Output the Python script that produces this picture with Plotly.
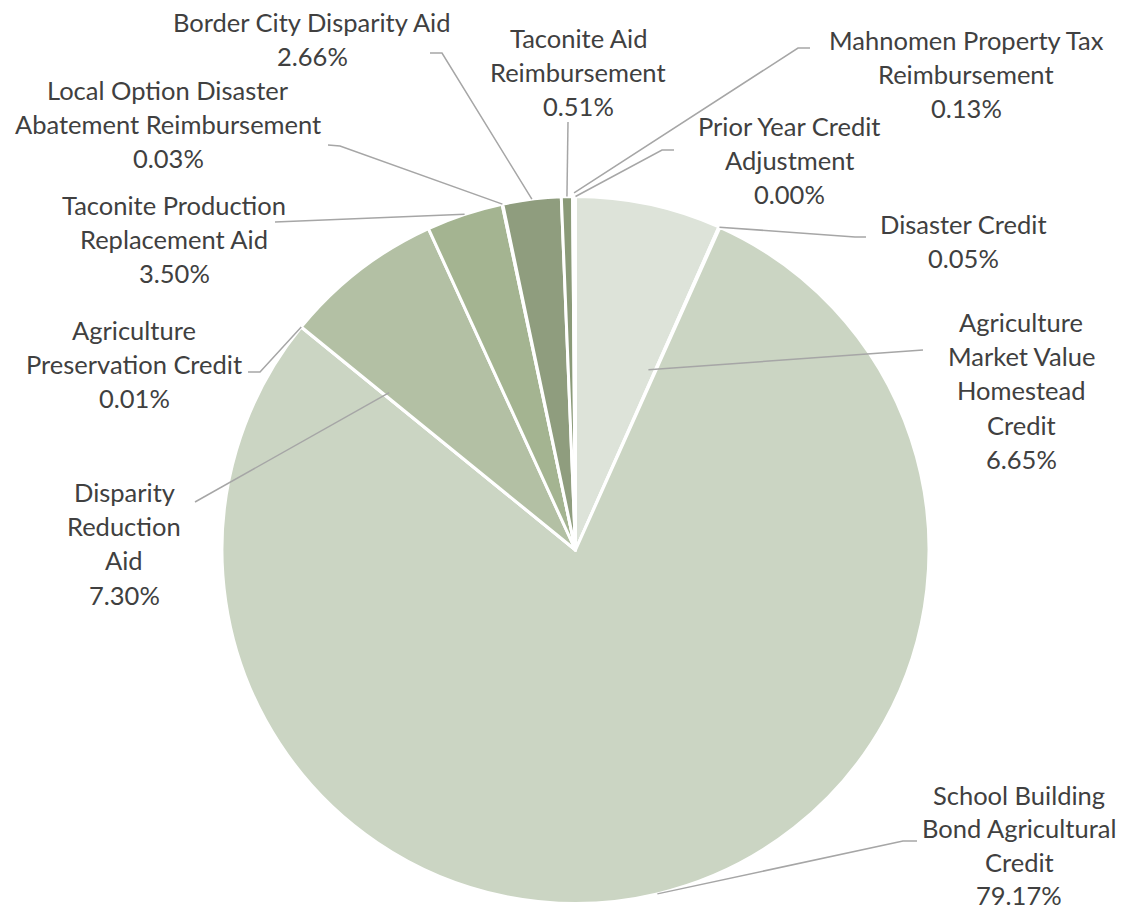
import math
import plotly.graph_objects as go

# ---------------- data ----------------
categories = [
    "Agriculture Market Value Homestead Credit",
    "Disaster Credit",
    "School Building Bond Agricultural Credit",
    "Agriculture Preservation Credit",
    "Disparity Reduction Aid",
    "Taconite Production Replacement Aid",
    "Local Option Disaster Abatement Reimbursement",
    "Border City Disparity Aid",
    "Taconite Aid Reimbursement",
    "Mahnomen Property Tax Reimbursement",
    "Prior Year Credit Adjustment",
]
shares = [6.65, 0.05, 79.17, 0.01, 7.30, 3.50, 0.03, 2.66, 0.51, 0.13, 0.00]
label_lines = [
    ["Agriculture", "Market Value", "Homestead", "Credit"],
    ["Disaster Credit"],
    ["School Building", "Bond Agricultural", "Credit"],
    ["Agriculture", "Preservation Credit"],
    ["Disparity", "Reduction", "Aid"],
    ["Taconite Production", "Replacement Aid"],
    ["Local Option Disaster", "Abatement Reimbursement"],
    ["Border City Disparity Aid"],
    ["Taconite Aid", "Reimbursement"],
    ["Mahnomen Property Tax", "Reimbursement"],
    ["Prior Year Credit", "Adjustment"],
]
colors = ["#dde3d9", "#a4b491", "#cbd5c3", "#b3c0a4", "#b3c0a4", "#a4b491",
          "#97a685", "#8f9d7e", "#8a9a78", "#8a9a78", "#8a9a78"]

# ---------------- layout / style ----------------
W, H = 1127, 911
CX, CY, R = 575.5, 550, 353.5
FONT = "Lato"
FSIZE = 25.5
TEXT_COLOR = "#404040"
LINE_COLOR = "#a6a6a6"
LINE_STEP = 34.2

# label placement: centre x, first line centre y (pixels), line step
label_pos = [
    (1021, 322, LINE_STEP), (963, 224, LINE_STEP), (1019, 795, 33.4),
    (134, 330, LINE_STEP), (124, 492, LINE_STEP), (174, 205, LINE_STEP),
    (168, 90, LINE_STEP), (312, 22, LINE_STEP), (578, 38, LINE_STEP),
    (966, 40, LINE_STEP), (789, 126, LINE_STEP),
]
# leader anchor: fraction along slice, fraction of radius
anchor_frac = [
    (0.92, 0.55), (0.5, 1.0), (0.5, 1.0), (0.5, 1.0), (0.04, 0.69), (0.5, 1.0),
    (0.5, 1.0), (0.5, 1.0), (0.5, 1.0), (0.5, 1.01), (0.5, 1.0),
]
# leader path after the anchor (pixels)
leader_pts = [
    [(923, 350)],
    [(855, 237), (866, 237)],
    [(903, 841), (917, 841)],
    [(260, 372), (248, 372)],
    [(195, 502)],
    [(275, 222)],
    [(340, 146), (328, 145)],
    [(442, 53), (430, 53)],
    [(568, 122)],
    [(798, 48), (810, 48)],
    [(662, 150), (674, 150)],
]


def px(x, y):
    return x / W, 1 - y / H


fig = go.Figure(
    go.Pie(
        labels=categories,
        values=shares,
        sort=False,
        direction="clockwise",
        rotation=0,
        textinfo="none",
        hoverinfo="label+percent",
        marker=dict(colors=colors, line=dict(color="white", width=3)),
        domain=dict(x=[(CX - R) / W, (CX + R) / W],
                    y=[1 - (CY + R) / H, 1 - (CY - R) / H]),
        showlegend=False,
    )
)

total = sum(shares)
cum = 0.0
shapes = []
annotations = []
for i, v in enumerate(shares):
    af, rf = anchor_frac[i]
    theta = 2 * math.pi * (cum + af * v) / total
    ax = CX + rf * R * math.sin(theta)
    ay = CY - rf * R * math.cos(theta)
    cum += v
    pts = [(ax, ay)] + leader_pts[i]
    path = "M " + " L ".join("%.5f,%.5f" % px(x, y) for x, y in pts)
    shapes.append(dict(type="path", xref="paper", yref="paper", path=path,
                       line=dict(color=LINE_COLOR, width=1.5)))
    lines = label_lines[i] + ["%.2f%%" % v]
    lx, ly, step = label_pos[i]
    for k, t in enumerate(lines):
        x, y = px(lx, ly + k * step)
        annotations.append(dict(text=t, x=x, y=y, xref="paper", yref="paper",
                                xanchor="center", yanchor="middle", showarrow=False,
                                borderpad=0,
                                font=dict(family=FONT, size=FSIZE, color=TEXT_COLOR)))

fig.update_layout(
    width=W, height=H,
    margin=dict(l=0, r=0, t=0, b=0),
    paper_bgcolor="white", plot_bgcolor="white",
    shapes=shapes, annotations=annotations,
)

fig.write_html("out.html", config={"displayModeBar": False},
               post_script="document.body.style.margin='0';")
